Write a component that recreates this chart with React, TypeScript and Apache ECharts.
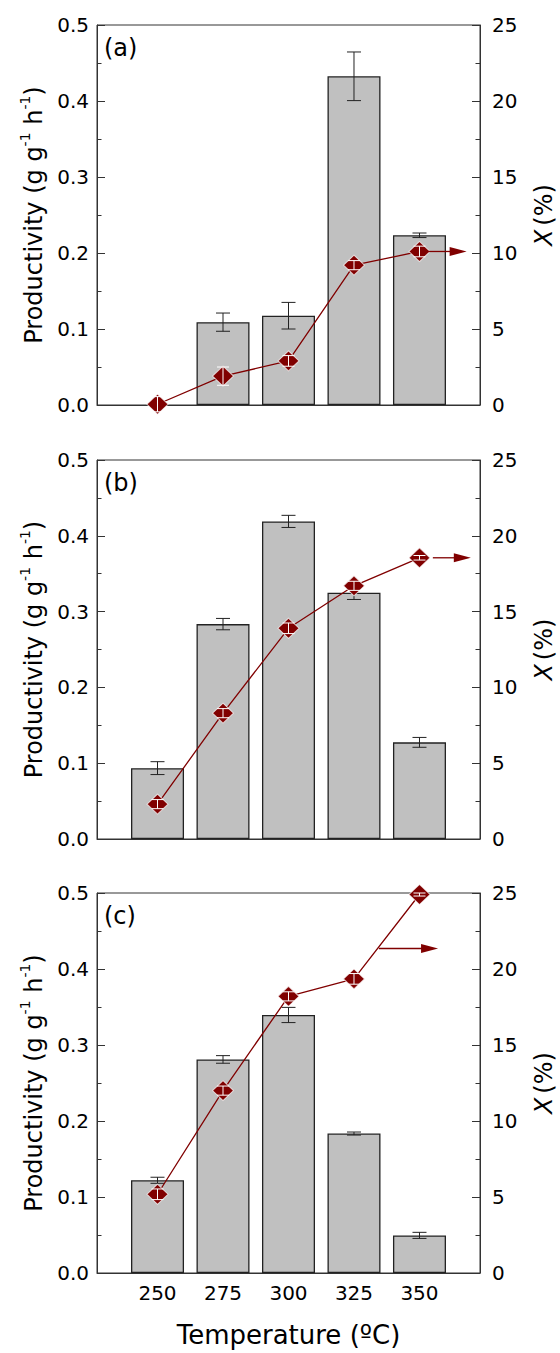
import React, { useEffect, useRef } from "react";
import * as echarts from "echarts";

const temps = [250, 275, 300, 325, 350];
const tempTicks = [250, 275, 300, 325, 350];

const prodA = [null, 0.109, 0.1175, 0.4325, 0.2233];
const prodErrA = [null, 0.012, 0.0175, 0.032, 0.003];
const convA = [0.05, 1.9, 2.9, 9.2, 10.1];
const convErrA = [0.5, 0.6, 0.35, 0.3, 0.35];
const arrowA = [353.2, 368.0, 10.1];

const prodB = [0.0935, 0.2835, 0.419, 0.325, 0.1275];
const prodErrB = [0.0085, 0.0075, 0.008, 0.009, 0.0065];
const convB = [2.3, 8.3, 13.9, 16.7, 18.55];
const convErrB = [0.3, 0.3, 0.35, 0.3, 0.15];
const arrowB = [355.1, 369.6, 18.55];

const prodC = [0.122, 0.281, 0.3395, 0.1835, 0.0495];
const prodErrC = [0.004, 0.005, 0.01, 0.002, 0.004];
const convC = [5.18, 12.0, 18.2, 19.35, 24.9];
const convErrC = [0.35, 0.3, 0.3, 0.35, 0.1];
const arrowC = [334.5, 357.1, 21.35];

const panelLabels = ["(a)", "(b)", "(c)"];

const FONT = "DejaVu Sans";
const RED = "#800000";
const AXIS = "#333";

export default function App() {
  const ref = useRef<HTMLDivElement>(null);

  useEffect(() => {
    if (!ref.current) return;
    const chart = echarts.init(ref.current, null, { renderer: "svg" });

    const panels = [
      { prod: prodA, perr: prodErrA, conv: convA, cerr: convErrA, arrow: arrowA },
      { prod: prodB, perr: prodErrB, conv: convB, cerr: convErrB, arrow: arrowB },
      { prod: prodC, perr: prodErrC, conv: convC, cerr: convErrC, arrow: arrowC },
    ];
    const tops = [25, 460, 893];
    const heights = [380, 379, 380];

    const grid = tops.map((t, i) => ({
      left: 97,
      width: 383,
      top: t,
      height: heights[i],
      containLabel: false,
      outerBoundsMode: "none",
      show: true,
      borderColor: AXIS,
      borderWidth: 1,
      backgroundColor: "transparent",
    }));

    const xAxis = panels.map((_, i) => ({
      type: "value",
      gridIndex: i,
      min: 226.9,
      max: 373.1,
      axisLine: { show: true, lineStyle: { color: AXIS, width: 1 } },
      axisTick: { show: false },
      splitLine: { show: false },
      axisLabel: {
        show: i === 2,
        customValues: tempTicks,
        fontSize: 20,
        fontFamily: FONT,
        color: "#000",
        margin: 10,
      },
      name: i === 2 ? "Temperature (ºC)" : "",
      nameLocation: "middle",
      nameGap: 49,
      nameTextStyle: { fontSize: 26, fontFamily: FONT, color: "#000" },
    }));

    const yAxis: any[] = [];
    panels.forEach((_, i) => {
      yAxis.push({
        type: "value",
        gridIndex: i,
        position: "left",
        min: 0,
        max: 0.5,
        interval: 0.1,
        axisLine: { show: true, lineStyle: { color: AXIS, width: 1 } },
        axisTick: { show: true, inside: true, length: 8, lineStyle: { color: AXIS } },
        minorTick: { show: true, splitNumber: 2, length: 4.5, lineStyle: { color: AXIS } },
        splitLine: { show: false },
        axisLabel: {
          formatter: (v: number) => v.toFixed(1),
          fontSize: 20,
          fontFamily: FONT,
          color: "#000",
          margin: 8,
        },
        name: "{n|Productivity (g g}{s|-1}{n| h}{s|-1}{n|)}",
        nameLocation: "middle",
        nameRotate: 90,
        nameGap: 50,
        nameTextStyle: {
          fontFamily: FONT,
          color: "#000",
          rich: {
            n: { fontSize: 24, fontFamily: FONT, color: "#000", lineHeight: 28, verticalAlign: "bottom" },
            s: { fontSize: 14, fontFamily: FONT, color: "#000", lineHeight: 28, verticalAlign: "top" },
          },
        },
      });
      yAxis.push({
        type: "value",
        gridIndex: i,
        position: "right",
        min: 0,
        max: 25,
        interval: 5,
        axisLine: { show: true, lineStyle: { color: AXIS, width: 1 } },
        axisTick: { show: true, inside: true, length: 8, lineStyle: { color: AXIS } },
        minorTick: { show: true, splitNumber: 2, length: 4.5, lineStyle: { color: AXIS } },
        splitLine: { show: false },
        axisLabel: {
          fontSize: 20,
          fontFamily: FONT,
          color: "#000",
          margin: 12,
        },
        name: "{i|X} {n|(%)}",
        nameLocation: "middle",
        nameRotate: 90,
        nameGap: 52,
        nameTextStyle: {
          fontFamily: FONT,
          color: "#000",
          rich: {
            i: { fontSize: 24, fontFamily: FONT, fontStyle: "italic", color: "#000" },
            n: { fontSize: 24, fontFamily: FONT, color: "#000" },
          },
        },
      });
    });

    const errRender = (color: string, hw: number) => (params: any, api: any) => {
      const x = api.value(0);
      const y = api.value(1);
      const e = api.value(2);
      const top = api.coord([x, y + e]);
      const bot = api.coord([x, y - e]);
      const style = { stroke: color, lineWidth: 1 };
      return {
        type: "group",
        children: [
          { type: "line", shape: { x1: top[0], y1: top[1], x2: bot[0], y2: bot[1] }, style },
          { type: "line", shape: { x1: top[0] - hw, y1: top[1], x2: top[0] + hw, y2: top[1] }, style },
          { type: "line", shape: { x1: bot[0] - hw, y1: bot[1], x2: bot[0] + hw, y2: bot[1] }, style },
        ],
      };
    };

    const arrowRender = (params: any, api: any) => {
      const p1 = api.coord([api.value(0), api.value(2)]);
      const p2 = api.coord([api.value(1), api.value(2)]);
      const hl = 17;
      const hh = 4.5;
      return {
        type: "group",
        children: [
          {
            type: "line",
            shape: { x1: p1[0], y1: p1[1], x2: p2[0] - hl + 1, y2: p2[1] },
            style: { stroke: RED, lineWidth: 1.3 },
          },
          {
            type: "polygon",
            shape: { points: [[p2[0] - hl, p2[1] - hh], [p2[0], p2[1]], [p2[0] - hl, p2[1] + hh]] },
            style: { fill: RED },
          },
        ],
      };
    };

    const series: any[] = [];
    panels.forEach((p, i) => {
      const barData = temps.map((t, j) => [t, p.prod[j]]).filter((d) => d[1] !== null);
      const barErr = temps
        .map((t, j) => [t, p.prod[j], p.perr[j]])
        .filter((d) => d[1] !== null);
      series.push({
        type: "bar",
        xAxisIndex: i,
        yAxisIndex: 2 * i,
        data: barData,
        barWidth: 53,
        itemStyle: { color: "#c0c0c0", borderColor: "#222", borderWidth: 1.3 },
        z: 2,
      });
      series.push({
        type: "custom",
        xAxisIndex: i,
        yAxisIndex: 2 * i,
        data: barErr,
        encode: { x: 0, y: 1 },
        renderItem: errRender("#222", 7),
        z: 3,
      });
      series.push({
        type: "line",
        xAxisIndex: i,
        yAxisIndex: 2 * i + 1,
        data: temps.map((t, j) => [t, p.conv[j]]),
        symbol: "diamond",
        symbolSize: [21, 20],
        showAllSymbol: true,
        itemStyle: { color: RED, borderColor: "rgba(255,255,255,0.7)", borderWidth: 1 },
        lineStyle: { color: RED, width: 1.3 },
        z: 4,
      });
      series.push({
        type: "custom",
        xAxisIndex: i,
        yAxisIndex: 2 * i + 1,
        data: temps.map((t, j) => [t, p.conv[j], p.cerr[j]]),
        encode: { x: 0, y: 1 },
        renderItem: errRender("#ffffff", 6),
        z: 6,
      });
      series.push({
        type: "custom",
        xAxisIndex: i,
        yAxisIndex: 2 * i + 1,
        data: [p.arrow],
        encode: { x: 0, y: 2 },
        renderItem: arrowRender,
        z: 5,
      });
    });

    const graphic = panelLabels.map((lab, i) => ({
      type: "text",
      left: 104,
      top: tops[i] + 11,
      style: { text: lab, font: `24px "${FONT}"`, fill: "#000" },
      z: 20,
    }));

    chart.setOption({
      animation: false,
      backgroundColor: "#fff",
      grid,
      xAxis,
      yAxis,
      series,
      graphic,
    });

    return () => chart.dispose();
  }, []);

  return (
    <div
      ref={ref}
      style={{ position: "absolute", left: 0, top: 0, width: 560, height: 1353, background: "#fff" }}
    />
  );
}
